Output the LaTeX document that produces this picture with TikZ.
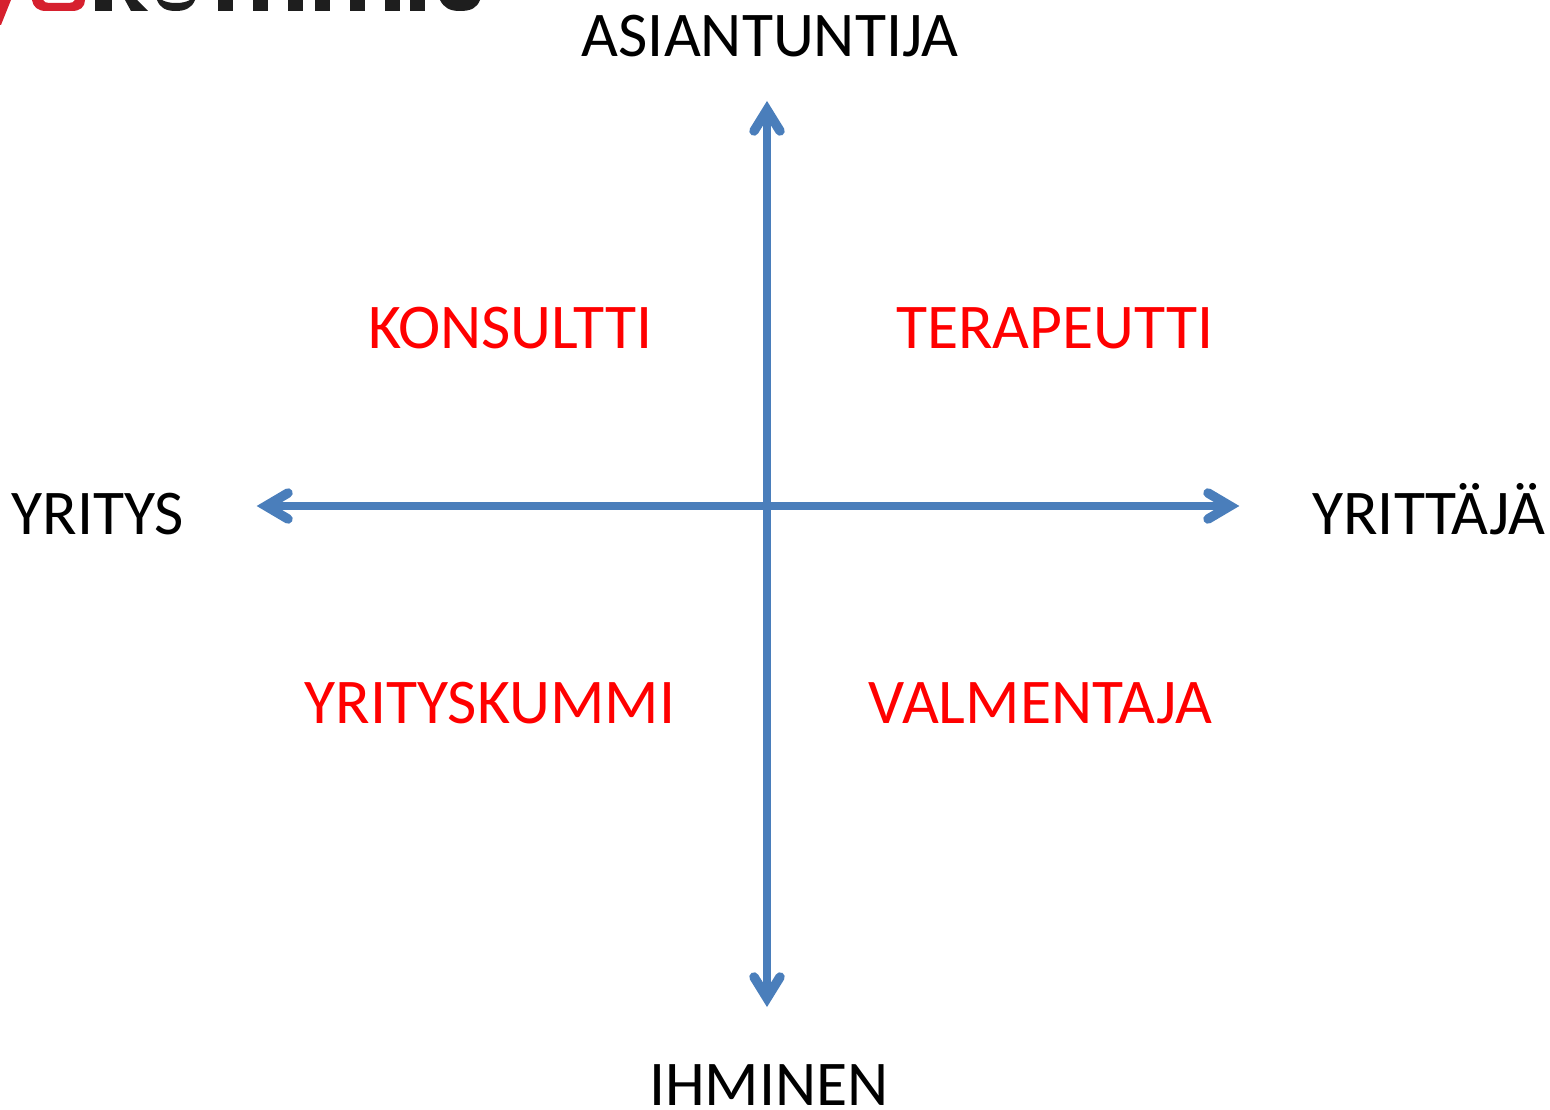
\documentclass[tikz,border=0pt]{standalone}
\usepackage{fontspec}
\setmainfont{Carlito}
\definecolor{axisblue}{RGB}{74,126,187}
\definecolor{logored}{RGB}{214,32,46}
\definecolor{logoblack}{RGB}{30,30,30}
\tikzset{
  axislabel/.style={font=\fontsize{63.7}{64}\selectfont,text=black,inner sep=0pt,anchor=base},
  rolelabel/.style={axislabel,text=red},
  axisline/.style={draw=axisblue,line width=8.5pt},
  axishead/.style={draw=axisblue,line width=9.5pt,line cap=round,miter limit=10},
}
\begin{document}
\begin{tikzpicture}[x=1pt,y=-1pt]
\useasboundingbox (0,0) rectangle (1550,1110);
% logo remnant
\fill[logored] (0,0) -- (11,0) -- (1,25) -- (0,25) -- cycle;
\fill[logored,even odd rule] (32,0) .. controls (33,7) and (38,11) .. (46,11) -- (72,11) .. controls (80,11) and (85,7) .. (85,0) -- cycle
  (43,0) .. controls (44,2) and (46,3) .. (49,3) -- (69,3) .. controls (72,3) and (74,2) .. (75,0) -- cycle;
\fill[logoblack] (95,0) rectangle (112,11);
\fill[logoblack] (125,0) -- (137,0) -- (148,11) -- (131,11) -- cycle;
\fill[logoblack] (157,0) .. controls (160,8) and (166,11) .. (176,11) .. controls (185,11) and (192,8) .. (195,0) -- (190,0) .. controls (186,2) and (182,3) .. (176,3) .. controls (170,3) and (166,2) .. (162,0) -- cycle;
\fill[logoblack] (218,0) rectangle (233,11);
\fill[logoblack] (253,0) rectangle (268,11);
\fill[logoblack] (288,0) rectangle (303,11);
\fill[logoblack] (315,0) rectangle (330,11);
\fill[logoblack] (350,0) rectangle (365,11);
\fill[logoblack] (385,0) rectangle (400,11);
\fill[logoblack] (410,0) rectangle (425,11);
\fill[logoblack] (440,0) .. controls (444,8) and (450,11) .. (460,11) .. controls (471,11) and (477,8) .. (480,0) -- cycle;
% labels
\node[axislabel] (asiantuntija) at (770,57) {ASIANTUNTIJA};
\node[axislabel] (ihminen) at (769,1105) {IHMINEN};
\node[axislabel] (yritys) at (98,534) {YRITYS};
\node[axislabel] (yrittaja) at (1429,534) {YRITTÄJÄ};
\node[rolelabel] (konsultti) at (510.5,348) {KONSULTTI};
\node[rolelabel] (terapeutti) at (1055,348) {TERAPEUTTI};
\node[rolelabel] (yrityskummi) at (490,723) {YRITYSKUMMI};
\node[rolelabel] (valmentaja) at (1040.5,723) {VALMENTAJA};
% axes
\coordinate (top) at (767,110);
\coordinate (bottom) at (767,998);
\coordinate (left) at (266,506);
\coordinate (right) at (1230,506);
\draw[axisline] (top) -- (bottom);
\draw[axisline] (left) -- (right);
\draw[axishead] (754,131) -- (top) -- (780,131);
\draw[axishead] (754,977) -- (bottom) -- (780,977);
\draw[axishead] (288,493) -- (left) -- (288,519);
\draw[axishead] (1208,493) -- (right) -- (1208,519);
\end{tikzpicture}
\end{document}
